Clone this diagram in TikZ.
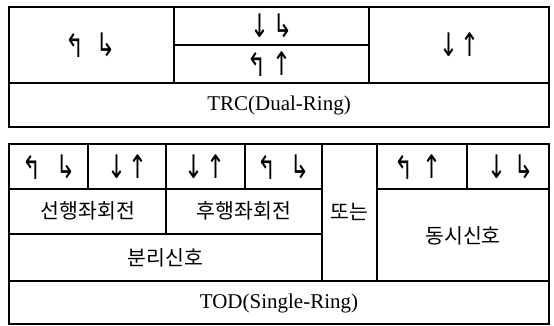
\documentclass[tikz,border=0pt]{standalone}
\usepackage{fontspec}
\usepackage{graphicx}
\setmainfont{Liberation Serif}
\newfontfamily\krfont{Noto Sans CJK KR}
\newfontfamily\arrfont{DejaVu Sans}
\newcommand\arrglyph[1]{\scalebox{0.78}[1.12]{#1}}
\begin{document}
\begin{tikzpicture}[x=1pt,y=-1pt,
  grid/.style={line width=1.6pt},
  lbl/.style={inner sep=0pt,font=\fontsize{21}{25}\selectfont},
  kor/.style={inner sep=0pt,font=\krfont\fontsize{20.5}{24}\selectfont},
  ar/.style={inner sep=0pt,font=\arrfont\fontsize{29}{34}\selectfont}]
\useasboundingbox (0,0) rectangle (554,326);
% ---- top table (TRC) ----
\draw[grid] (9,7) rectangle (549,127);
\draw[grid] (9,83) -- (549,83);
\draw[grid] (174,7) -- (174,83);
\draw[grid] (369,7) -- (369,83);
\draw[grid] (174,45) -- (369,45);
% ---- bottom table (TOD) ----
\draw[grid] (9,144) rectangle (549,324);
\draw[grid] (9,281) -- (549,281);
\draw[grid] (9,189) -- (322,189);
\draw[grid] (377,189) -- (549,189);
\draw[grid] (9,234) -- (322,234);
\draw[grid] (88,144) -- (88,189);
\draw[grid] (166,144) -- (166,234);
\draw[grid] (245,144) -- (245,189);
\draw[grid] (322,144) -- (322,281);
\draw[grid] (377,144) -- (377,281);
\draw[grid] (467,144) -- (467,189);
% ---- top arrows ----
\node[ar] (t1a) at (75,45) {\arrglyph{↰}};
\node[ar] (t1b) at (106,45) {\arrglyph{↳}};
\node[ar] (t2a) at (260,26) {\arrglyph{↓}};
\node[ar] (t2b) at (283,26) {\arrglyph{↳}};
\node[ar] (t3a) at (257,64) {\arrglyph{↰}};
\node[ar] (t3b) at (282,64) {\arrglyph{↑}};
\node[ar] (t4a) at (449,45) {\arrglyph{↓}};
\node[ar] (t4b) at (470,45) {\arrglyph{↑}};
\node[lbl] (trc) at (279,105) {TRC(Dual-Ring)};
% ---- bottom arrows ----
\node[ar] (b1a) at (32,167) {\arrglyph{↰}};
\node[ar] (b1b) at (66,167) {\arrglyph{↳}};
\node[ar] (b2a) at (117,167) {\arrglyph{↓}};
\node[ar] (b2b) at (138,167) {\arrglyph{↑}};
\node[ar] (b3a) at (194,167) {\arrglyph{↓}};
\node[ar] (b3b) at (216,167) {\arrglyph{↑}};
\node[ar] (b4a) at (267,167) {\arrglyph{↰}};
\node[ar] (b4b) at (300,167) {\arrglyph{↳}};
\node[ar] (b5a) at (404,167) {\arrglyph{↰}};
\node[ar] (b5b) at (432,167) {\arrglyph{↑}};
\node[ar] (b6a) at (497,167) {\arrglyph{↓}};
\node[ar] (b6b) at (524,167) {\arrglyph{↳}};
% ---- Korean labels ----
\node[kor] (lead) at (88,211) {선행좌회전};
\node[kor] (lag) at (244,211) {후행좌회전};
\node[kor] (split) at (165.5,258) {분리신호};
\node[kor] (or) at (349.5,212) {또는};
\node[kor] (simul) at (463,236) {동시신호};
\node[lbl] (tod) at (279,303) {TOD(Single-Ring)};
\end{tikzpicture}
\end{document}
